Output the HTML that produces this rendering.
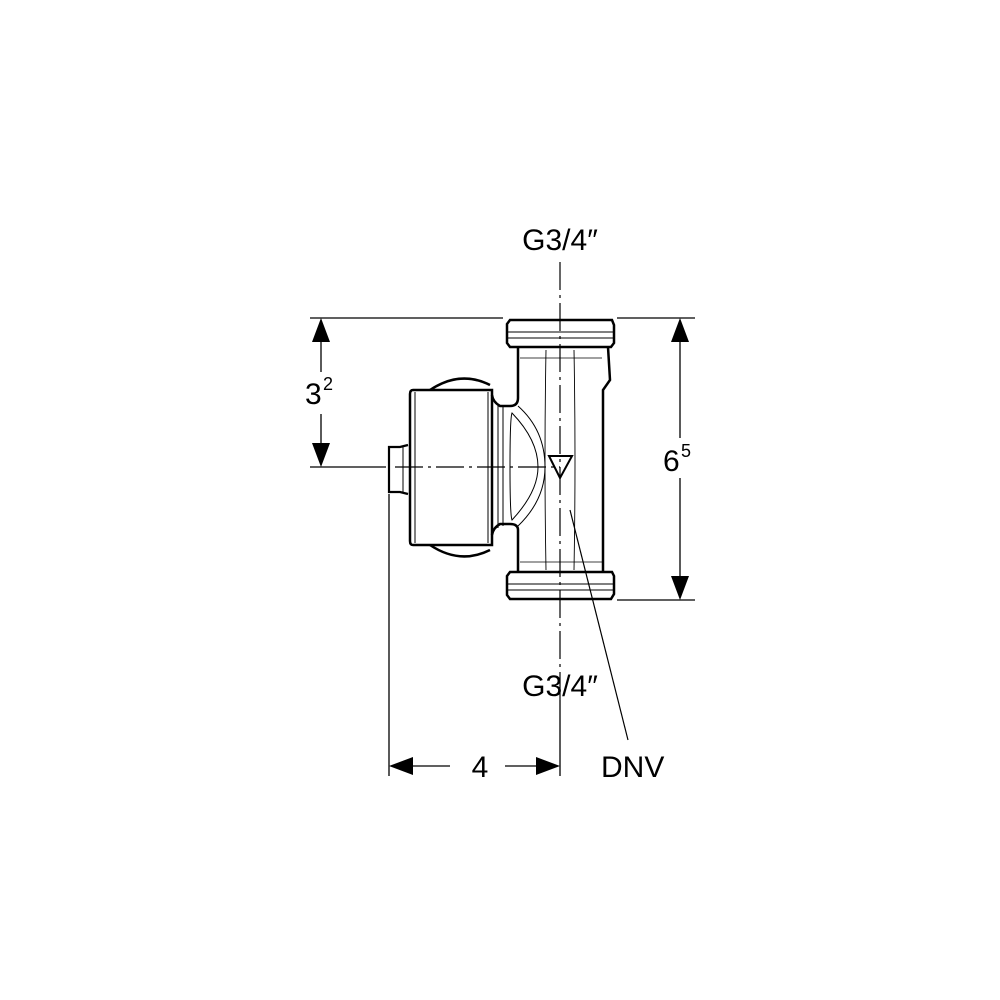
<!DOCTYPE html>
<html><head><style>body{margin:0;background:#fff}svg{display:block}</style></head><body>
<svg width="1000" height="1000" viewBox="0 0 1000 1000" xmlns="http://www.w3.org/2000/svg" font-family="Liberation Sans, sans-serif">
<g fill="none" stroke="#000">
<line x1="310" y1="318" x2="503" y2="318" stroke-width="1.3"/>
<line x1="617" y1="318" x2="695" y2="318" stroke-width="1.3"/>
<line x1="617" y1="600" x2="695" y2="600" stroke-width="1.3"/>
<line x1="310" y1="467" x2="386" y2="467" stroke-width="1.3"/>
<line x1="389" y1="494" x2="389" y2="776" stroke-width="1.3"/>
<line x1="560" y1="700" x2="560" y2="776" stroke-width="1.3"/>
<line x1="321" y1="330" x2="321" y2="372" stroke-width="1.3"/>
<line x1="321" y1="414" x2="321" y2="455" stroke-width="1.3"/>
<line x1="680" y1="330" x2="680" y2="438" stroke-width="1.3"/>
<line x1="680" y1="478" x2="680" y2="590" stroke-width="1.3"/>
<line x1="400" y1="766" x2="450" y2="766" stroke-width="1.3"/>
<line x1="505" y1="766" x2="550" y2="766" stroke-width="1.3"/>
<line x1="570" y1="510" x2="628" y2="740" stroke-width="1.2"/>
<line x1="560" y1="262" x2="560" y2="700" stroke-width="1.2" stroke-dasharray="28,5,3,5"/>
<line x1="395" y1="467" x2="560" y2="467" stroke-width="1.2" stroke-dasharray="28,5,3,5"/>
<path d="M518 347 L518 398 Q518 406 510 406 L500 406 Q493 402 492 395" stroke-width="2.5"/>
<path d="M518 572 L518 530 Q518 524 510 524 L500 524 Q493 528 492 535" stroke-width="2.5"/>
<path d="M608 347 L610 380 L603 390 L603 572" stroke-width="2.5"/>
<path d="M510 320 L612 320 L614 325 L614 343 L611 347 L510 347 L507 343 L507 324 Z" stroke-width="2.5"/>
<path d="M510 572 L612 572 L614 576 L614 594 L611 599 L510 599 L507 595 L507 576 Z" stroke-width="2.5"/>
<line x1="508" y1="332" x2="613" y2="332" stroke-width="1"/>
<line x1="508" y1="338" x2="613" y2="338" stroke-width="1"/>
<line x1="508" y1="584" x2="613" y2="584" stroke-width="1"/>
<line x1="508" y1="590" x2="613" y2="590" stroke-width="1"/>
<line x1="520" y1="358" x2="602" y2="358" stroke-width="0.8"/>
<line x1="520" y1="562" x2="602" y2="562" stroke-width="0.8"/>
<path d="M546 350 Q544 460 546 570" stroke-width="0.9"/>
<path d="M574 350 Q576 460 574 570" stroke-width="0.9"/>
<path d="M518 406 Q545 430 545 467 Q545 500 518 526" stroke-width="1"/>
<path d="M512 413 Q538 440 538 467 Q538 492 512 520 Q510 515 510 467 Q510 418 512 413 Z" stroke-width="1"/>
<line x1="498" y1="404" x2="498" y2="528" stroke-width="1"/>
<line x1="503" y1="406" x2="503" y2="526" stroke-width="1"/>
<path d="M413 390 L492 390 L492 545 L413 545 Q410 545 410 541 L410 394 Q410 390 413 390 Z" stroke-width="2.5"/>
<line x1="415" y1="392" x2="415" y2="543" stroke-width="1"/>
<line x1="488" y1="392" x2="488" y2="543" stroke-width="1"/>
<path d="M430 390 Q460 370 490 385" stroke-width="2.5"/>
<path d="M430 545 Q460 565 490 550" stroke-width="2.5"/>
<path d="M408 445 L400 447 L389 447 L389 492 L400 492 L408 494" stroke-width="2.2"/>
<line x1="403" y1="447" x2="403" y2="492" stroke-width="1"/>
<path d="M549 456 L572 456 L560 478 Z" stroke-width="2"/>
</g>
<g fill="#000">
<path d="M321 318 L312 342 L330 342 Z"/>
<path d="M321 467 L312 443 L330 443 Z"/>
<path d="M680 318 L671 342 L689 342 Z"/>
<path d="M680 600 L671 576 L689 576 Z"/>
<path d="M389 766 L413 757 L413 775 Z"/>
<path d="M560 766 L536 757 L536 775 Z"/>
</g>
<g font-size="30" fill="#000">
<text x="560" y="250" text-anchor="middle">G3/4″</text>
<text x="560" y="696" text-anchor="middle">G3/4″</text>
<text x="480" y="777" text-anchor="middle">4</text>
<text x="601" y="777">DNV</text>
<text x="305" y="404">3</text><text x="323" y="390" font-size="18">2</text>
<text x="663" y="471">6</text><text x="681" y="457" font-size="18">5</text>
</g>
</svg>
</body></html>
